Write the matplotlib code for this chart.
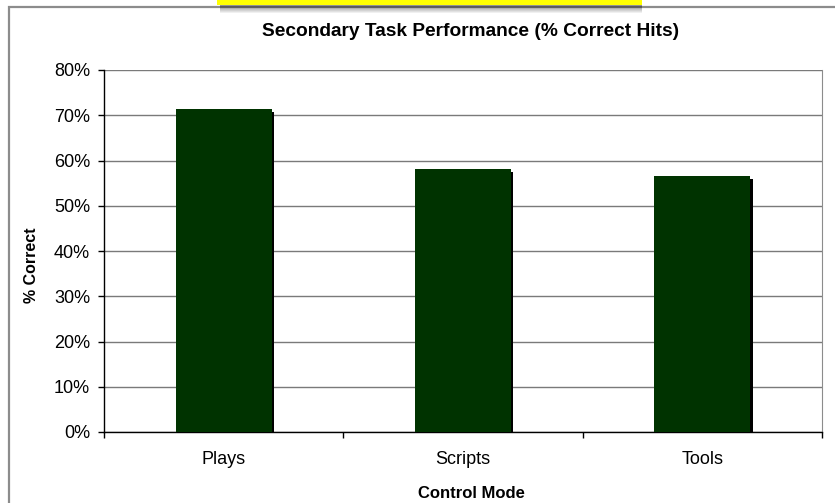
import matplotlib
matplotlib.use("Agg")
import matplotlib.pyplot as plt
import matplotlib.patheffects as pe
from matplotlib.patches import Rectangle
from matplotlib.ticker import PercentFormatter, FixedLocator

plt.rcParams['font.family'] = ['Liberation Sans', 'DejaVu Sans']

# data
modes = ['Plays', 'Scripts', 'Tools']
pct_correct = [0.713, 0.581, 0.565]
y_ticks = [0.0, 0.1, 0.2, 0.3, 0.4, 0.5, 0.6, 0.7, 0.8]

W, H = 835, 503
fig = plt.figure(figsize=(W / 100, H / 100), dpi=100)

def px(x, y):
    # pixel (from top-left) -> figure fraction
    return x / W, 1 - y / H

# outer chart border (cropped on right and bottom)
bx, by = px(9, 7)
fig.patches.append(Rectangle((bx, -0.1), 1.2, by + 0.1, transform=fig.transFigure,
                             fill=False, edgecolor='#8c8c8c', linewidth=1.6, zorder=1))

# yellow callout at the top with a soft shadow
yx0, _ = px(217, 0)
yx1, _ = px(642, 0)
for i in range(9):
    _, sy = px(0, 5 + i)
    fig.patches.append(Rectangle((yx0 + 0.004, sy), yx1 - yx0 - 0.004, 1 - sy,
                                 transform=fig.transFigure, facecolor='black',
                                 edgecolor='none', alpha=0.06, zorder=2))
_, ytop = px(0, 5)
fig.patches.append(Rectangle((yx0, ytop), yx1 - yx0, 1 - ytop, transform=fig.transFigure,
                             facecolor='#ffff00', edgecolor='none', zorder=3))

# plot area
l, b = px(104, 432)
r, t = px(822, 70)
ax = fig.add_axes([l, b, r - l, t - b])

bars = ax.bar(range(len(modes)), pct_correct, width=0.4, color='#003300',
              edgecolor='none', linewidth=0, zorder=3)
for bar in bars:
    bar.set_path_effects([pe.SimplePatchShadow(offset=(1.8, -2.0), shadow_rgbFace='black',
                                               alpha=1.0), pe.Normal()])

ax.set_xlim(-0.5, len(modes) - 0.5)
ax.set_ylim(0, 0.8)
ax.set_yticks(y_ticks)
ax.yaxis.set_major_formatter(PercentFormatter(1.0, decimals=0))
ax.grid(axis='y', color='#7a7a7a', linewidth=1.0, zorder=0)
ax.set_axisbelow(True)

ax.set_xticks(range(len(modes)))
ax.set_xticklabels(modes)
ax.xaxis.set_minor_locator(FixedLocator([-0.5, 0.5, 1.5, 2.5]))
ax.tick_params(axis='x', which='major', length=0, pad=14, labelsize=13)
ax.tick_params(axis='x', which='minor', length=4, width=1, direction='out', color='black')
ax.tick_params(axis='y', length=4, width=1, direction='out', pad=6, labelsize=13)

for side in ['left', 'bottom']:
    ax.spines[side].set_color('black')
    ax.spines[side].set_linewidth(1.0)
ax.spines['right'].set_color('#8c8c8c')
ax.spines['top'].set_visible(False)

tx, ty = px(471, 32)
fig.text(tx, ty, 'Secondary Task Performance (% Correct Hits)', ha='center', va='center',
         fontsize=13.8, fontweight='bold')
xl, yl = px(471, 493)
fig.text(xl, yl, 'Control Mode', ha='center', va='center', fontsize=12, fontweight='bold')
xl, yl = px(32, 265)
fig.text(xl, yl, '% Correct', ha='center', va='center', rotation=90, fontsize=11.5,
         fontweight='bold')

fig.savefig('out.png', dpi=100)
